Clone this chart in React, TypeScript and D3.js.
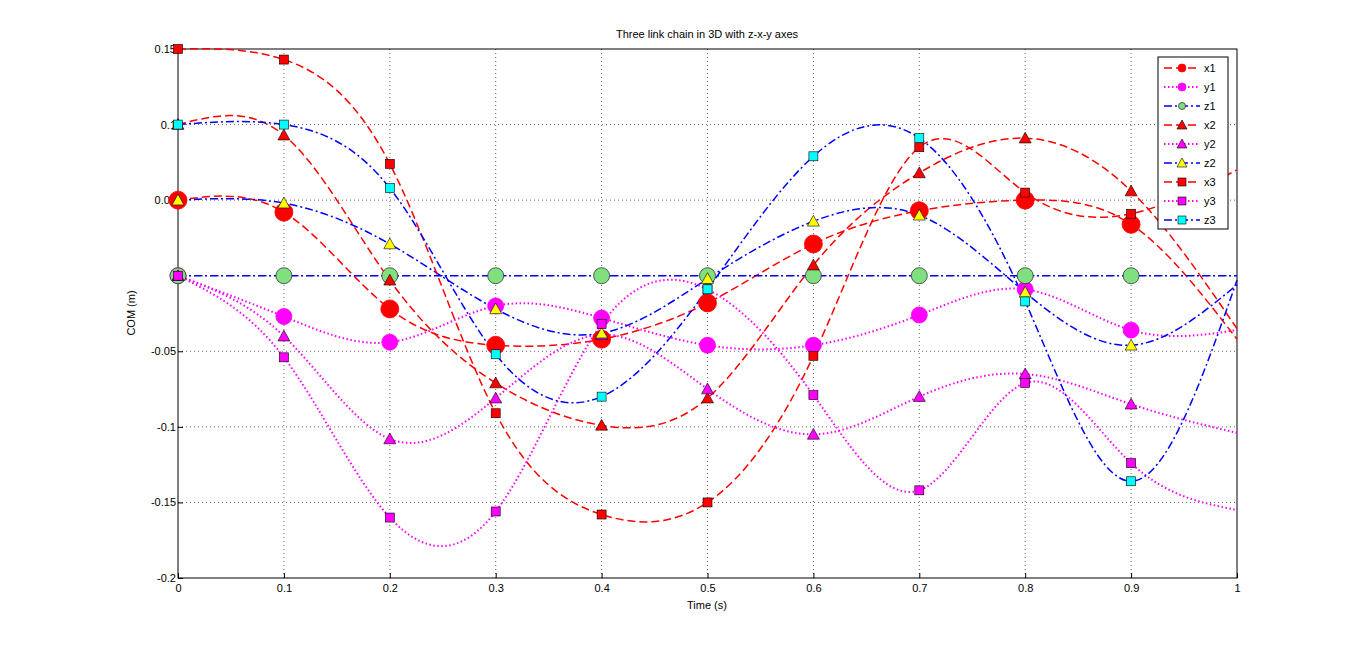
import React, { useEffect, useRef } from 'react';
import * as d3 from 'd3';

const times = [0, 0.1, 0.2, 0.3, 0.4, 0.5, 0.6, 0.7, 0.8, 0.9, 1];
const x1 = [0.05, 0.042, -0.022, -0.046, -0.042, -0.018, 0.021, 0.043, 0.05, 0.034, -0.042];
const y1 = [0, -0.027, -0.044, -0.02, -0.028, -0.046, -0.046, -0.026, -0.009, -0.036, -0.036];
const z1 = [0, 0, 0, 0, 0, 0, 0, 0, 0, 0, 0];
const x2 = [0.1, 0.093, -0.003, -0.071, -0.099, -0.081, 0.007, 0.068, 0.091, 0.056, -0.035];
const y2 = [0, -0.04, -0.108, -0.081, -0.039, -0.075, -0.105, -0.08, -0.065, -0.085, -0.104];
const z2 = [0.05, 0.048, 0.021, -0.022, -0.038, -0.002, 0.036, 0.04, -0.011, -0.046, -0.006];
const x3 = [0.15, 0.143, 0.074, -0.091, -0.158, -0.15, -0.053, 0.085, 0.055, 0.041, 0.07];
const y3 = [0, -0.054, -0.16, -0.156, -0.032, -0.009, -0.079, -0.142, -0.071, -0.124, -0.155];
const z3 = [0.1, 0.1, 0.058, -0.052, -0.08, -0.009, 0.079, 0.091, -0.017, -0.136, -0.003];
const xTicks = [0, 0.1, 0.2, 0.3, 0.4, 0.5, 0.6, 0.7, 0.8, 0.9, 1];
const yTicks = [0.15, 0.1, 0.05, 0, -0.05, -0.1, -0.15, -0.2];

const series = [
  { name: 'x1', values: x1, color: '#ff0000', dash: '8,4', marker: 'circle', fill: '#ff0000', size: 9, lsize: 4 },
  { name: 'y1', values: y1, color: '#ff00ff', dash: '1.5,2.5', marker: 'circle', fill: '#ff00ff', size: 8, lsize: 4 },
  { name: 'z1', values: z1, color: '#0000ff', dash: '8,3,2,3', marker: 'circle', fill: '#80e080', size: 8, lsize: 3.5 },
  { name: 'x2', values: x2, color: '#ff0000', dash: '8,4', marker: 'tri', fill: '#ff0000', size: 6, lsize: 5 },
  { name: 'y2', values: y2, color: '#ff00ff', dash: '1.5,2.5', marker: 'tri', fill: '#ff00ff', size: 6, lsize: 5 },
  { name: 'z2', values: z2, color: '#0000ff', dash: '8,3,2,3', marker: 'tri', fill: '#ffff00', size: 6, lsize: 5 },
  { name: 'x3', values: x3, color: '#ff0000', dash: '8,4', marker: 'sq', fill: '#ff0000', size: 4.5, lsize: 4 },
  { name: 'y3', values: y3, color: '#ff00ff', dash: '1.5,2.5', marker: 'sq', fill: '#ff00ff', size: 4.5, lsize: 4 },
  { name: 'z3', values: z3, color: '#0000ff', dash: '8,3,2,3', marker: 'sq', fill: '#00ffff', size: 4.5, lsize: 4 },
];

const App = () => {
  const ref = useRef<SVGSVGElement>(null);

  useEffect(() => {
    const svg = d3.select(ref.current);
    svg.selectAll('*').remove();
    const xScale = d3.scaleLinear().domain([0, 1]).range([178, 1237]);
    const yScale = d3.scaleLinear().domain([-0.2, 0.15]).range([578, 49]);
    const font = 'Liberation Sans, Arial, sans-serif';

    const grid = svg.append('g').attr('stroke', '#000').attr('stroke-width', 0.6).attr('stroke-dasharray', '1,3');
    xTicks.slice(1, -1).forEach(t => grid.append('line').attr('x1', xScale(t)).attr('x2', xScale(t)).attr('y1', 49).attr('y2', 578));
    yTicks.slice(1, -1).forEach(t => grid.append('line').attr('x1', 178).attr('x2', 1237).attr('y1', yScale(t)).attr('y2', yScale(t)));

    svg.append('rect').attr('x', 178).attr('y', 49).attr('width', 1059).attr('height', 529).attr('fill', 'none').attr('stroke', '#000');

    const axB = svg.append('g').attr('transform', 'translate(0,578)')
      .call(d3.axisBottom(xScale).tickValues(xTicks).tickFormat(d => d3.format('')(d as number)).tickSizeInner(-5).tickSizeOuter(0));
    const axL = svg.append('g').attr('transform', 'translate(178,0)')
      .call(d3.axisLeft(yScale).tickValues(yTicks).tickFormat(d => String(d)).tickSizeInner(-5).tickSizeOuter(0));
    [axB, axL].forEach(a => {
      a.select('.domain').remove();
      a.selectAll('text').attr('font-family', font).attr('font-size', 11).attr('fill', '#000');
    });
    axB.selectAll('text').attr('dy', '0.5em').attr('y', 8);
    axL.selectAll('text').attr('x', -2);

    const line = d3.line<number>().x((_, i) => xScale(times[i])).y(d => yScale(d)).curve(d3.curveNatural);

    const drawMarker = (g: any, s: any, cx: number, cy: number, r: number) => {
      const stroke = s.name === 'z1' ? '#333' : s.marker === 'circle' ? s.fill : '#000';
      const sw = s.marker === 'circle' ? 0.8 : 0.6;
      if (s.marker === 'circle') {
        g.append('circle').attr('cx', cx).attr('cy', cy).attr('r', r).attr('fill', s.fill).attr('stroke', stroke).attr('stroke-width', sw);
      } else if (s.marker === 'tri') {
        g.append('path').attr('d', `M${cx},${cy - r}L${cx + r},${cy + r * 0.8}L${cx - r},${cy + r * 0.8}Z`)
          .attr('fill', s.fill).attr('stroke', stroke).attr('stroke-width', sw);
      } else {
        g.append('rect').attr('x', cx - r).attr('y', cy - r).attr('width', 2 * r).attr('height', 2 * r)
          .attr('fill', s.fill).attr('stroke', stroke).attr('stroke-width', sw);
      }
    };

    series.forEach(s => {
      svg.append('path').attr('d', line(s.values)).attr('fill', 'none').attr('stroke', s.color)
        .attr('stroke-width', s.dash === '1.5,2.5' ? 2 : 1.5).attr('stroke-dasharray', s.dash);
    });
    series.forEach(s => {
      const g = svg.append('g');
      s.values.slice(0, 10).forEach((v, i) => drawMarker(g, s, xScale(times[i]), yScale(v), s.size));
    });

    // legend
    const lg = svg.append('g');
    lg.append('rect').attr('x', 1158).attr('y', 57).attr('width', 70).attr('height', 172).attr('fill', '#fff').attr('stroke', '#000');
    series.forEach((s, i) => {
      const y = 68 + i * 19;
      lg.append('line').attr('x1', 1164).attr('x2', 1200).attr('y1', y).attr('y2', y).attr('stroke', s.color)
        .attr('stroke-width', s.dash === '1.5,2.5' ? 2 : 1.5).attr('stroke-dasharray', s.dash);
      drawMarker(lg, s, 1182, y, s.lsize);
      lg.append('text').attr('x', 1204).attr('y', y + 4).attr('font-family', font).attr('font-size', 11).text(s.name);
    });

    svg.append('text').attr('x', 707).attr('y', 38).attr('text-anchor', 'middle').attr('font-family', font).attr('font-size', 11)
      .text('Three link chain in 3D with z-x-y axes');
    svg.append('text').attr('x', 707).attr('y', 609).attr('text-anchor', 'middle').attr('font-family', font).attr('font-size', 11)
      .text('Time (s)');
    svg.append('text').attr('transform', 'translate(135,313) rotate(-90)').attr('text-anchor', 'middle').attr('font-family', font).attr('font-size', 11)
      .text('COM (m)');
  }, []);

  return (
    <svg ref={ref} width={1366} height={651} style={{ position: 'absolute', left: 0, top: 0, background: '#fff' }} />
  );
};

export default App;
